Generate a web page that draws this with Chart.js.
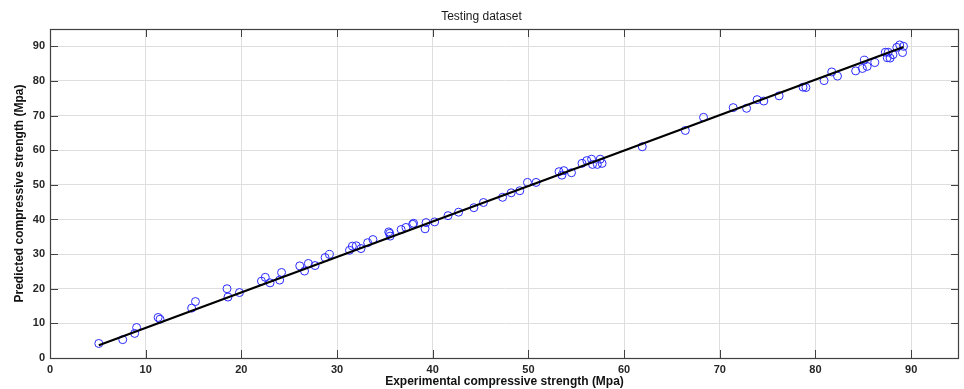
<!DOCTYPE html>
<html>
<head>
<meta charset="utf-8">
<title>Testing dataset</title>
<script src="https://cdn.jsdelivr.net/npm/chart.js@4.4.1/dist/chart.umd.min.js"></script>
<style>
  html, body { margin: 0; padding: 0; background: #ffffff; }
  #wrap { width: 964px; height: 389px; position: relative; }
</style>
</head>
<body>
<div id="wrap"><canvas id="chartTesting"></canvas></div>
<script>
// --- DATA: experimental vs predicted strength (Mpa) ---
const expStrength = [
  5.1, 7.6, 8.85, 9.05, 11.3, 11.5, 14.8, 15.2, 18.5, 18.6, 19.8,
  22.1, 22.5, 23.0, 24.0, 24.2, 26.1, 26.6, 27.0, 27.7, 28.75, 29.2,
  31.3, 31.6, 32.0, 32.5, 33.2, 33.75, 35.4, 35.5, 35.55, 36.7, 37.2, 37.9, 38.0,
  39.2, 39.3, 40.2, 41.6, 42.7, 44.3, 45.3, 47.3, 48.2, 49.1, 49.9, 50.8,
  53.2, 53.5, 53.7, 54.5, 55.6, 56.1, 56.6, 56.7, 57.2, 57.5, 57.7,
  61.9, 66.4, 68.3, 71.4, 72.8, 73.9, 74.6, 76.2, 78.7, 79.0,
  80.9, 81.7, 82.3, 84.2, 84.9, 85.1, 85.4, 86.2,
  87.3, 87.6, 87.5, 87.8, 88.1, 88.5, 88.8, 89.2, 89.1
];
const predStrength = [
  4.2, 5.3, 7.1, 8.8, 11.7, 11.2, 14.4, 16.3, 20.0, 17.6, 18.9,
  22.2, 23.3, 21.7, 22.5, 24.7, 26.6, 25.1, 27.3, 26.7, 29.0, 29.9,
  31.1, 32.3, 32.4, 31.6, 33.3, 34.2, 36.4, 36.0, 35.2, 37.1, 37.7, 38.6, 38.9,
  37.3, 39.1, 39.3, 41.1, 42.1, 43.4, 44.9, 46.4, 47.7, 48.3, 50.7, 50.7,
  53.8, 52.8, 54.1, 53.5, 56.2, 57.0, 57.4, 55.9, 55.9, 57.4, 56.2,
  61.0, 65.7, 69.5, 72.3, 72.1, 74.6, 74.2, 75.7, 78.2, 78.1,
  80.1, 82.6, 81.4, 82.9, 83.6, 86.0, 84.2, 85.3,
  88.3, 88.3, 86.7, 86.6, 87.6, 89.7, 90.4, 90.0, 88.2
];

// Least-squares fit line, end points over the data range
const fitX = [5.1, 89.2];
const fitY = [3.7, 89.8];

const axisTicks = [0, 10, 20, 30, 40, 50, 60, 70, 80, 90];
const axisMax = 95;

const FONT = "'Liberation Sans', Arial, Helvetica, sans-serif";
const TEXT = '#262626';
const BOX = '#404040';

// Keep only the listed tick values (drops the bare max bound)
function keepTicks(scale) {
  scale.ticks = axisTicks.map(v => ({ value: v }));
}

// Axes box with inward tick marks on all four sides
const boxPlugin = {
  id: 'axesBox',
  afterDatasetsDraw(chart) {
    const { ctx, chartArea: a, scales } = chart;
    const len = 8;
    ctx.save();
    ctx.strokeStyle = BOX;
    ctx.lineWidth = 1;
    ctx.beginPath();
    scales.x.ticks.forEach(t => {
      const px = Math.round(scales.x.getPixelForValue(t.value)) + 0.5;
      ctx.moveTo(px, a.bottom); ctx.lineTo(px, a.bottom - len);
      ctx.moveTo(px, a.top); ctx.lineTo(px, a.top + len);
    });
    scales.y.ticks.forEach(t => {
      const py = Math.round(scales.y.getPixelForValue(t.value)) + 0.5;
      ctx.moveTo(a.left, py); ctx.lineTo(a.left + len, py);
      ctx.moveTo(a.right, py); ctx.lineTo(a.right - len, py);
    });
    ctx.stroke();
    ctx.lineWidth = 1.2;
    ctx.strokeRect(Math.round(a.left) + 0.5, Math.round(a.top) + 0.5,
      Math.round(a.right - a.left) - 1, Math.round(a.bottom - a.top));
    ctx.restore();
  }
};

const ctx = document.getElementById('chartTesting').getContext('2d');
new Chart(ctx, {
  type: 'scatter',
  data: {
    datasets: [
      {
        label: 'Testing',
        data: expStrength.map((x, i) => ({ x: x, y: predStrength[i] })),
        pointStyle: 'circle',
        pointRadius: 4,
        pointBorderWidth: 1,
        pointBorderColor: '#2a2aff',
        pointBackgroundColor: 'rgba(0,0,0,0)',
        order: 2
      },
      {
        label: 'Fit',
        type: 'line',
        data: fitX.map((x, i) => ({ x: x, y: fitY[i] })),
        borderColor: '#000000',
        borderWidth: 2.2,
        pointRadius: 0,
        fill: false,
        order: 1
      }
    ]
  },
  options: {
    responsive: true,
    maintainAspectRatio: false,
    animation: false,
    layout: { padding: { left: 0, right: 1, top: 0, bottom: 0 } },
    plugins: {
      legend: { display: false },
      tooltip: { enabled: false },
      title: {
        display: true,
        text: 'Testing dataset',
        color: '#1a1a1a',
        font: { family: FONT, size: 12, weight: 'normal' },
        padding: { top: 9.5, bottom: 5.1 }
      }
    },
    scales: {
      x: {
        type: 'linear',
        min: 0,
        max: axisMax,
        afterBuildTicks: keepTicks,
        afterFit: s => { s.height = 31; s.paddingLeft = 0; s.paddingRight = 0; },
        grid: { color: '#dedede', lineWidth: 1, drawTicks: false },
        border: { display: false },
        ticks: { color: TEXT, padding: 5, font: { family: FONT, size: 11, weight: 'bold' } },
        title: {
          display: true,
          text: 'Experimental compressive strength (Mpa)',
          color: '#111111',
          font: { family: FONT, size: 12, weight: 'bold' },
          padding: { top: 0, bottom: 0 }
        }
      },
      y: {
        type: 'linear',
        min: 0,
        max: axisMax,
        afterBuildTicks: keepTicks,
        afterFit: s => { s.width = 50; },
        grid: { color: '#dedede', lineWidth: 1, drawTicks: false },
        border: { display: false },
        ticks: { color: TEXT, padding: 5, font: { family: FONT, size: 11, weight: 'bold' } },
        title: {
          display: true,
          text: 'Predicted compressive strength (Mpa)',
          color: '#111111',
          font: { family: FONT, size: 12, weight: 'bold' },
          padding: { top: 12, bottom: 0 }
        }
      }
    }
  },
  plugins: [boxPlugin]
});
</script>
</body>
</html>
